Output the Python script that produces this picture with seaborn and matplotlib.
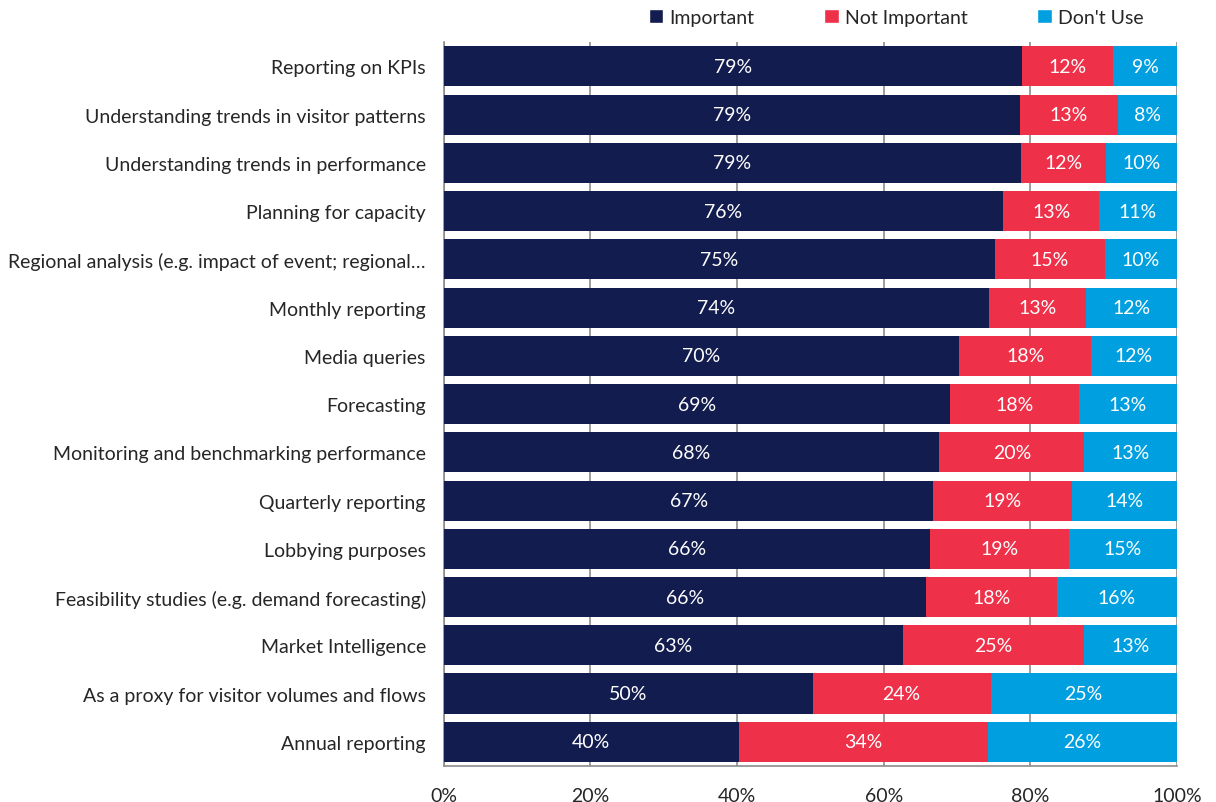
import matplotlib
matplotlib.use("Agg")
import matplotlib.pyplot as plt
import numpy as np
import pandas as pd
import seaborn as sns
from matplotlib.patches import Patch

# Data (percent of respondents)
categories = [
    "Reporting on KPIs",
    "Understanding trends in visitor patterns",
    "Understanding trends in performance",
    "Planning for capacity",
    "Regional analysis (e.g. impact of event; regional\u2026",
    "Monthly reporting",
    "Media queries",
    "Forecasting",
    "Monitoring and benchmarking performance",
    "Quarterly reporting",
    "Lobbying purposes",
    "Feasibility studies (e.g. demand forecasting)",
    "Market Intelligence",
    "As a proxy for visitor volumes and flows",
    "Annual reporting",
]
important = [78.9, 78.6, 78.7, 76.3, 75.2, 74.4, 70.3, 69.0, 67.6, 66.8, 66.3, 65.8, 62.6, 50.3, 40.2]
not_important = [12.4, 13.4, 11.6, 13.1, 15.0, 13.2, 18.0, 17.6, 19.8, 18.9, 19.0, 17.8, 24.8, 24.3, 34.0]
dont_use = [8.7, 8.0, 9.7, 10.6, 9.8, 12.4, 11.7, 13.4, 12.6, 14.3, 14.7, 16.4, 12.6, 25.4, 25.8]

series = ["Important", "Not Important", "Don't Use"]
colors = ["#121C4E", "#EE3049", "#00A0E0"]

df = pd.DataFrame({
    "category": categories,
    "Important": important,
    "Not Important": not_important,
    "Don't Use": dont_use,
})
df["cum1"] = df["Important"]
df["cum2"] = df["Important"] + df["Not Important"]
df["cum3"] = df["cum2"] + df["Don't Use"]

sns.set_style("white")
plt.rcParams["font.family"] = ["Lato", "DejaVu Sans"]

fig = plt.figure(figsize=(12.16, 8.03), dpi=100)
ax = fig.add_axes([0.365, 0.045, 0.6028, 0.901])

# stacked bars: draw totals first, then smaller cumulative sums on top
for col, c in zip(["cum3", "cum2", "cum1"], colors[::-1]):
    sns.barplot(data=df, y="category", x=col, color=c, width=0.83,
                saturation=1, ax=ax, zorder=3, linewidth=0)

# segment labels
for i, row in df.iterrows():
    starts = [0, row["cum1"], row["cum2"]]
    for s, name in zip(starts, series):
        v = row[name]
        ax.text(s + v / 2, i, f"{round(v):d}%", ha="center", va="center",
                color="white", fontsize=14, zorder=4)

ax.set_xlim(0, 100)
ax.set_ylim(len(categories) - 0.5, -0.5)
ax.set_xticks(np.arange(0, 101, 20))
ax.set_xticklabels([f"{t}%" for t in range(0, 101, 20)], fontsize=14)
ax.set_yticks(range(len(categories)))
ax.set_yticklabels(categories, fontsize=14)
ax.set_xlabel("")
ax.set_ylabel("")

ax.grid(axis="x", color="#8C8C8C", linewidth=1.2, zorder=0)
ax.set_axisbelow(True)
for side in ["top", "right"]:
    ax.spines[side].set_visible(False)
for side in ["left", "bottom"]:
    ax.spines[side].set_color("#8C8C8C")
    ax.spines[side].set_linewidth(1.2)

# category ticks sit between bars on the left axis
ax.tick_params(axis="y", length=0, pad=13)
ax.set_yticks(np.arange(-0.5, len(categories), 1), minor=True)
ax.tick_params(axis="y", which="minor", length=6, color="#8C8C8C", width=1.2)
ax.tick_params(axis="x", length=6, color="#8C8C8C", width=1.2, direction="out", pad=9)

handles = [Patch(facecolor=c, label=s) for s, c in zip(series, colors)]
fig.legend(handles=handles, loc="center", bbox_to_anchor=(0.737, 0.977), ncol=3,
           frameon=False, fontsize=14, handlelength=0.75, handleheight=0.75,
           handletextpad=0.3, columnspacing=3.6)

fig.savefig("out.png", dpi=100)
